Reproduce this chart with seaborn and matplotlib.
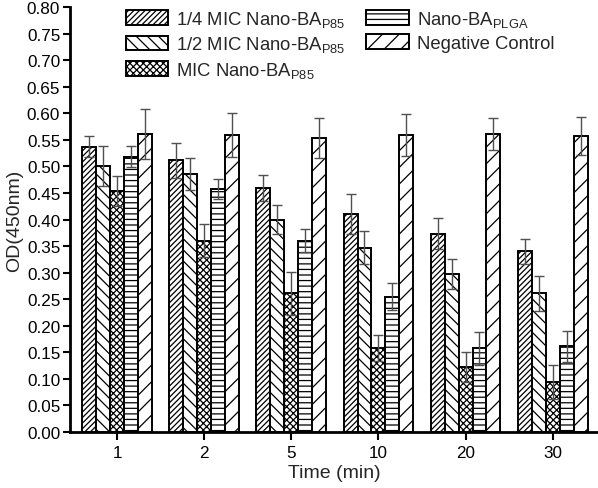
import matplotlib
matplotlib.use("Agg")
import matplotlib.pyplot as plt
import seaborn as sns
import pandas as pd
import numpy as np

times = ["1", "2", "5", "10", "20", "30"]
series = [
    r"1/4 MIC Nano-BA$_{\mathregular{P85}}$",
    r"1/2 MIC Nano-BA$_{\mathregular{P85}}$",
    r"MIC Nano-BA$_{\mathregular{P85}}$",
    r"Nano-BA$_{\mathregular{PLGA}}$",
    "Negative Control",
]
quarter_mic = [0.537, 0.512, 0.459, 0.410, 0.373, 0.340]
half_mic = [0.501, 0.486, 0.400, 0.347, 0.298, 0.261]
full_mic = [0.454, 0.360, 0.261, 0.158, 0.122, 0.095]
plga = [0.518, 0.457, 0.360, 0.255, 0.158, 0.161]
negative = [0.561, 0.559, 0.554, 0.559, 0.561, 0.557]

quarter_sd = [0.020, 0.033, 0.025, 0.038, 0.029, 0.023]
half_sd = [0.038, 0.030, 0.028, 0.031, 0.028, 0.033]
full_sd = [0.028, 0.031, 0.040, 0.025, 0.028, 0.032]
plga_sd = [0.020, 0.019, 0.022, 0.025, 0.031, 0.029]
negative_sd = [0.047, 0.041, 0.038, 0.039, 0.031, 0.036]

values = [quarter_mic, half_mic, full_mic, plga, negative]
sds = [quarter_sd, half_sd, full_sd, plga_sd, negative_sd]

rows = []
for s, vals in zip(series, values):
    for t, v in zip(times, vals):
        rows.append({"Time": t, "Series": s, "OD": v})
df = pd.DataFrame(rows)

sns.set_style("ticks")
plt.rcParams["font.family"] = ["Liberation Sans", "DejaVu Sans"]
plt.rcParams["mathtext.fontset"] = "custom"
plt.rcParams["mathtext.rm"] = "Liberation Sans"
plt.rcParams["hatch.linewidth"] = 0.9
plt.rcParams["hatch.color"] = "black"

fig = plt.figure(figsize=(5.98, 4.89), dpi=100)
ax = fig.add_axes([0.117, 0.1145, 0.883, 0.869])

sns.barplot(data=df, x="Time", y="OD", hue="Series", order=times,
            hue_order=series, errorbar=None, width=0.8, gap=0,
            palette=["white"] * 5, edgecolor="black",
            linewidth=1.4, ax=ax)

hatches = ["//////", "\\\\\\", "xxxxx", "---", "//"]
for cont, h, sd in zip(ax.containers, hatches, sds):
    xs = []
    ys = []
    for bar in cont:
        bar.set_hatch(h)
        bar.set_facecolor("white")
        bar.set_edgecolor("black")
        xs.append(bar.get_x() + bar.get_width() / 2)
        ys.append(bar.get_height())
    ax.errorbar(xs, ys, yerr=sd, fmt="none", ecolor="#505050",
                elinewidth=1.0, capsize=3.6, capthick=1.0, zorder=5)

ax.set_ylim(0, 0.8)
ax.set_xlim(-0.54, 5.52)
ticks = np.arange(0, 0.801, 0.05)
ax.set_yticks(ticks)
ax.set_yticklabels([f"{v:.2f}" for v in ticks])
ax.tick_params(axis="both", direction="out", width=1.5, labelsize=12.3,
               colors="black")
ax.tick_params(axis="y", length=5, pad=2)
ax.tick_params(axis="x", length=6)
for sp in ["top", "right"]:
    ax.spines[sp].set_visible(False)
for sp in ["left", "bottom"]:
    ax.spines[sp].set_linewidth(2)
    ax.spines[sp].set_color("black")

ax.set_xlabel("Time (min)", fontsize=14, labelpad=3)
ax.set_ylabel("OD(450nm)", fontsize=14, labelpad=3)

handles, labels = ax.get_legend_handles_labels()
for hd, h in zip(handles, hatches):
    hd.set_hatch(h)
    hd.set_facecolor("white")
    hd.set_edgecolor("black")
ax.legend(handles, labels, ncol=2, frameon=False, fontsize=13.3,
          loc="upper left", bbox_to_anchor=(0.074, 1.035),
          handlelength=2.3, handleheight=0.85, columnspacing=1.1,
          labelspacing=0.3, handletextpad=0.45)

fig.savefig("out.png", dpi=100)
